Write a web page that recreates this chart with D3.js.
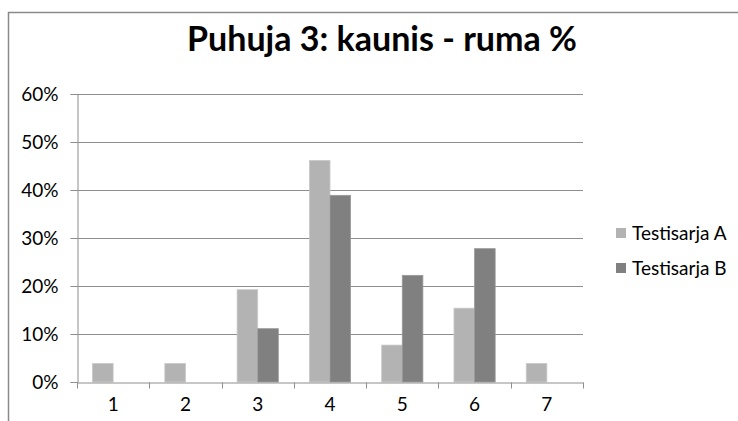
<!DOCTYPE html>
<html>
<head>
<meta charset="utf-8">
<script src="https://cdn.jsdelivr.net/npm/d3@7"></script>
<style>
  body { margin: 0; background: #fff; }
  text { font-family: Lato, "Open Sans", sans-serif; fill: #000; }
</style>
</head>
<body>
<div id="chart"></div>
<script>
// data (percent)
const categories = ['1', '2', '3', '4', '5', '6', '7']
const seriesNames = ['Testisarja A', 'Testisarja B']
const valuesA = [3.85, 3.85, 19.23, 46.15, 7.69, 15.38, 3.85]
const valuesB = [0, 0, 11.11, 38.89, 22.22, 27.78, 0]
const yTicks = [0, 10, 20, 30, 40, 50, 60]
const titleText = 'Puhuja 3: kaunis - ruma %'

const colors = ['#b3b3b3', '#808080']
const edges = ['#c9c9c9', '#999999']

const width = 738
const height = 421
const margin = {'top': 94, 'bottom': 39, 'left': 77, 'right': 155}

const svg = d3.select('#chart')
  .append('svg')
    .attr('width', width)
    .attr('height', height)

// outer chart border (only top and left show in the crop)
svg.append('path')
  .attr('d', `M8.5,${height}V12.5H${width}`)
  .attr('fill', 'none')
  .attr('stroke', '#8a8a8a')
  .attr('stroke-width', 1.5)

const x = d3.scaleBand()
  .domain(categories)
  .range([margin.left, width - margin.right])

const gap = x.bandwidth() * 0.43 / 2
const xSub = d3.scaleBand()
  .domain(seriesNames)
  .range([gap, x.bandwidth() - gap])

const y = d3.scaleLinear()
  .domain([0, 60])
  .range([height - margin.bottom, margin.top])

// gridlines
svg.append('g')
  .selectAll('line')
  .data(yTicks.slice(1))
  .enter()
  .append('line')
  .attr('x1', margin.left)
  .attr('x2', width - margin.right)
  .attr('y1', d => Math.round(y(d)) + 0.5)
  .attr('y2', d => Math.round(y(d)) + 0.5)
  .attr('stroke', '#8e8e8e')

// bars
const rows = categories.map((c, i) => ({cat: c, vals: [valuesA[i], valuesB[i]]}))

const groups = svg.append('g')
  .selectAll('g')
  .data(rows)
  .enter()
  .append('g')
  .attr('transform', d => `translate(${x(d.cat)},0)`)

groups.selectAll('rect')
  .data(d => d.vals.map((v, j) => ({name: seriesNames[j], v: v, j: j})))
  .enter()
  .filter(d => d.v > 0)
  .append('rect')
  .attr('x', d => xSub(d.name))
  .attr('width', xSub.bandwidth())
  .attr('y', d => y(d.v))
  .attr('height', d => y(0) - y(d.v))
  .style('fill', d => colors[d.j])
  .style('stroke', d => edges[d.j])
  .style('stroke-width', 0.8)

// y axis
const yAxis = svg.append('g')
  .attr('transform', `translate(${margin.left + 0.5},0)`)
  .call(d3.axisLeft(y).tickValues(yTicks).tickFormat(d => d + '%').tickSize(7).tickPadding(12))
yAxis.select('.domain').attr('stroke', '#8e8e8e')
yAxis.selectAll('.tick line').attr('stroke', '#8e8e8e')
yAxis.selectAll('.tick text')
  .style('font-size', '19px')
  .attr('dy', '0.36em')

// x axis
const xAxis = svg.append('g')
  .attr('transform', `translate(0,${Math.round(y(0)) + 0.5})`)
  .call(d3.axisBottom(x).tickSize(0).tickPadding(15))
xAxis.select('.domain').attr('stroke', '#8e8e8e')
xAxis.selectAll('.tick text').style('font-size', '19px')

// tick marks on the category boundaries
xAxis.append('g')
  .selectAll('line')
  .data(categories.concat(['end']))
  .enter()
  .append('line')
  .attr('x1', (d, i) => Math.round(margin.left + i * x.step()) + 0.5)
  .attr('x2', (d, i) => Math.round(margin.left + i * x.step()) + 0.5)
  .attr('y1', 0)
  .attr('y2', 6)
  .attr('stroke', '#8e8e8e')

// title, sized so it spans the same width as the original
const title = svg.append('text')
  .attr('x', 382)
  .attr('y', 51)
  .attr('text-anchor', 'middle')
  .style('font-size', '28px')
  .style('font-weight', 'bold')
  .text(titleText)
const tw = title.node().getComputedTextLength()
title.style('font-size', (28 * 390 / tw) + 'px')

// legend
const legend = svg.append('g')
  .selectAll('g')
  .data(seriesNames)
  .enter()
  .append('g')
  .attr('transform', (d, i) => `translate(616,${228 + i * 35})`)

legend.append('rect')
  .attr('width', 10)
  .attr('height', 10)
  .style('fill', (d, i) => colors[i])

legend.append('text')
  .attr('x', 16)
  .attr('y', 11.5)
  .style('font-size', '19px')
  .text(d => d)
</script>
</body>
</html>
